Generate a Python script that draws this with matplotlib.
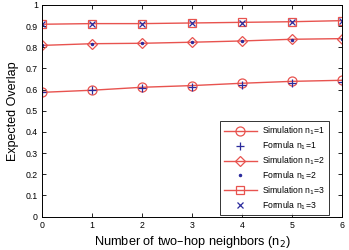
import matplotlib
matplotlib.use("Agg")
import matplotlib.pyplot as plt

plt.rcParams['font.family'] = ['Liberation Sans', 'DejaVu Sans']

n2 = [0, 1, 2, 3, 4, 5, 6]

sim_n1_1 = [0.587, 0.597, 0.611, 0.619, 0.630, 0.639, 0.644]
formula_n1_1 = [0.587, 0.597, 0.606, 0.614, 0.624, 0.630, 0.638]
sim_n1_2 = [0.809, 0.817, 0.819, 0.824, 0.830, 0.838, 0.841]
formula_n1_2 = [0.809, 0.817, 0.819, 0.824, 0.829, 0.833, 0.838]
sim_n1_3 = [0.909, 0.912, 0.912, 0.915, 0.918, 0.921, 0.926]
formula_n1_3 = [0.909, 0.912, 0.912, 0.915, 0.917, 0.919, 0.924]

red = '#e8534f'
blue = '#2b2b9c'

fig = plt.figure(figsize=(3.49, 2.5), dpi=100)
ax = fig.add_axes([42/349, 1 - 216.5/250, 300/349, 211.5/250])

ax.plot(n2, sim_n1_1, color=red, lw=1, marker='o', ms=6.5, mfc='none', mec=red, mew=0.9,
        label='Simulation n$_1$=1')
ax.plot(n2, formula_n1_1, ls='none', marker='+', ms=6, color=blue, mew=0.9, label='Formula n$_1$=1')
ax.plot(n2, sim_n1_2, color=red, lw=1, marker='D', ms=5.5, mfc='none', mec=red, mew=0.9,
        label='Simulation n$_1$=2')
ax.plot(n2, formula_n1_2, ls='none', marker='.', ms=3, color=blue, label='Formula n$_1$=2')
ax.plot(n2, sim_n1_3, color=red, lw=1, marker='s', ms=5.5, mfc='none', mec=red, mew=0.9,
        label='Simulation n$_1$=3')
ax.plot(n2, formula_n1_3, ls='none', marker='x', ms=4.5, color=blue, mew=0.9, label='Formula n$_1$=3')

ax.set_xlim(0, 6)
ax.set_ylim(0, 1)
ax.set_xticks(n2)
ax.set_yticks([i / 10 for i in range(11)])
ax.set_yticklabels(['0', '0.1', '0.2', '0.3', '0.4', '0.5', '0.6', '0.7', '0.8', '0.9', '1'])
ax.tick_params(direction='in', top=True, right=True, labelsize=6.3, length=3, width=0.6, pad=3)
for s in ax.spines.values():
    s.set_linewidth(0.7)

ax.set_xlabel('Number of two\u2013hop neighbors (n$_2$)', fontsize=9.2, labelpad=3)
ax.set_ylabel('Expected Overlap', fontsize=9, labelpad=5)

leg = ax.legend(loc='upper left', fontsize=6.2, frameon=True, fancybox=False,
                edgecolor='black', borderpad=0.45, labelspacing=0.27, handlelength=3.8,
                handletextpad=0.6, borderaxespad=0,
                bbox_to_anchor=((220 - 42) / 300, (216.5 - 121) / 211.5))
leg.get_frame().set_linewidth(0.7)

fig.savefig('out.png', dpi=100)
